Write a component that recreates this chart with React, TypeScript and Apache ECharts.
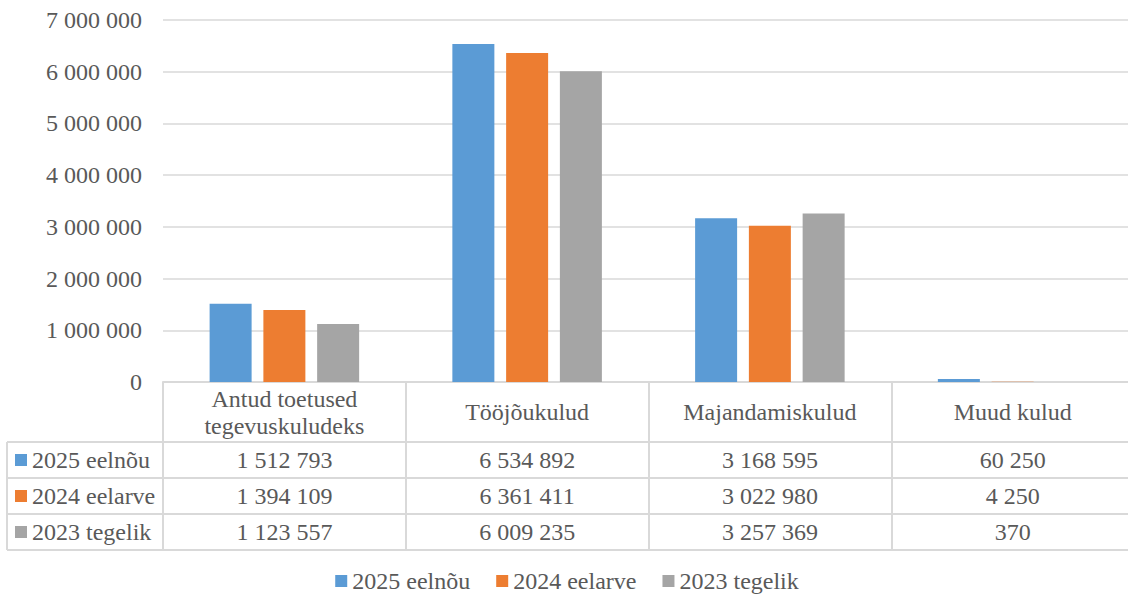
import React, { useEffect, useRef } from "react";
import * as echarts from "echarts";

const categories = ["Antud toetused\ntegevuskuludeks", "Tööjõukulud", "Majandamiskulud", "Muud kulud"];
const seriesNames = ["2025 eelnõu", "2024 eelarve", "2023 tegelik"];
const values2025 = [1512793, 6534892, 3168595, 60250];
const values2024 = [1394109, 6361411, 3022980, 4250];
const values2023 = [1123557, 6009235, 3257369, 370];
const seriesValues = [values2025, values2024, values2023];
const colors = ["#5B9BD5", "#ED7D31", "#A5A5A5"];
const yMin = 0;
const yMax = 7000000;
const yInterval = 1000000;

const FONT = "Liberation Serif";
const FS = 24;
const TEXT = "#595959";
const BORDER = "#D9D9D9";

const fmt = (n: number) => String(n).replace(/\B(?=(\d{3})+(?!\d))/g, " ");

// layout constants
const W = 1128;
const H = 601;
const CW = 1134; // chart canvas slightly wider than page; right edge is clipped as in the reference
const gridLeft = 163;
const gridRight = 0;
const gridTop = 20;
const axisY = 382;
const headerH = 60;
const rowH = 36;
const tableLeft = 7;

export default function App() {
  const ref = useRef<HTMLDivElement>(null);
  useEffect(() => {
    if (!ref.current) return;
    const chart = echarts.init(ref.current, undefined, { renderer: "svg" });
    const tableRight = CW - gridRight;
    const tableBottom = axisY + headerH + rowH * seriesNames.length;
    const graphics: any[] = [];
    for (let r = 0; r <= seriesNames.length; r++) {
      const y = axisY + headerH + rowH * r;
      graphics.push({
        type: "line",
        shape: { x1: tableLeft, y1: y, x2: tableRight, y2: y },
        style: { stroke: BORDER, lineWidth: 2 },
        silent: true,
      });
    }
    graphics.push({
      type: "line",
      shape: { x1: tableLeft, y1: axisY + headerH, x2: tableLeft, y2: tableBottom },
      style: { stroke: BORDER, lineWidth: 2 },
      silent: true,
    });
    seriesNames.forEach((name, i) => {
      const cy = axisY + headerH + rowH * i + rowH / 2;
      graphics.push({
        type: "rect",
        shape: { x: 15, y: cy - 6, width: 12, height: 12 },
        style: { fill: colors[i] },
        silent: true,
      });
      graphics.push({
        type: "text",
        x: 32,
        y: cy,
        style: {
          text: name,
          fill: TEXT,
          fontSize: FS,
          fontFamily: FONT,
          verticalAlign: "middle",
          align: "left",
        },
        silent: true,
      });
    });

    const valueAxes = seriesNames.map((_, i) => ({
      type: "category",
      data: categories,
      gridIndex: 0,
      position: "bottom",
      axisLine: { show: false },
      axisTick: { show: false },
      axisLabel: {
        interval: 0,
        margin: headerH + rowH * i + rowH / 2,
        verticalAlign: "middle",
        color: TEXT,
        fontSize: FS,
        fontFamily: FONT,
        formatter: (_v: string, idx: number) => fmt(seriesValues[i][idx]),
      },
    }));

    chart.setOption({
      animation: false,
      textStyle: { fontFamily: FONT },
      grid: { left: gridLeft, right: gridRight, top: gridTop, bottom: H - axisY, containLabel: false },
      legend: {
        bottom: 3,
        left: "center",
        icon: "rect",
        itemWidth: 12,
        itemHeight: 12,
        itemGap: 26,
        data: seriesNames,
        textStyle: { color: TEXT, fontSize: FS, fontFamily: FONT },
      },
      xAxis: [
        {
          type: "category",
          data: categories,
          axisLine: { show: true, lineStyle: { color: BORDER, width: 2 } },
          axisTick: {
            show: true,
            length: headerH + rowH * seriesNames.length,
            lineStyle: { color: BORDER, width: 2 },
          },
          axisLabel: {
            interval: 0,
            margin: headerH / 2,
            verticalAlign: "middle",
            color: TEXT,
            fontSize: FS,
            lineHeight: 27,
            fontFamily: FONT,
            align: "center",
          },
        },
        ...valueAxes,
      ],
      yAxis: {
        type: "value",
        min: yMin,
        max: yMax,
        interval: yInterval,
        axisLine: { show: false },
        axisTick: { show: false },
        splitLine: { lineStyle: { color: BORDER, width: 1.5 } },
        axisLabel: {
          margin: 21,
          color: TEXT,
          fontSize: FS,
          fontFamily: FONT,
          formatter: (v: number) => fmt(v),
        },
      },
      series: seriesNames.map((name, i) => ({
        name,
        type: "bar",
        xAxisIndex: 0,
        data: seriesValues[i],
        barWidth: 42,
        barGap: "28%",
        itemStyle: { color: colors[i] },
      })),
      graphic: graphics,
    });
    return () => chart.dispose();
  }, []);
  return (
    <div style={{ position: "absolute", left: 0, top: 0, width: W, height: H, overflow: "hidden", background: "#fff" }}>
      <div ref={ref} style={{ width: CW, height: H }} />
    </div>
  );
}
